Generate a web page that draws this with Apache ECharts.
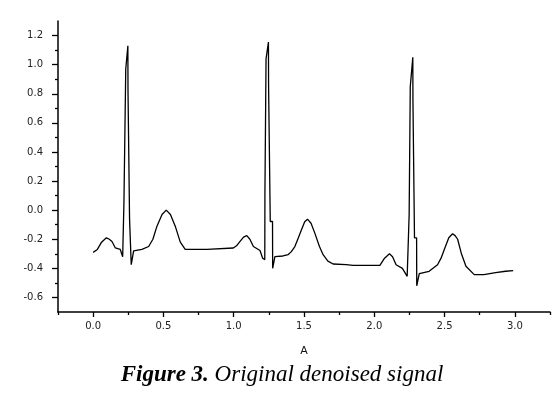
<!DOCTYPE html>
<html>
<head>
<meta charset="utf-8">
<script src="https://cdn.jsdelivr.net/npm/echarts@6/dist/echarts.min.js"></script>
<style>html,body{margin:0;padding:0;background:#fff}#c{width:560px;height:396px}</style>
</head>
<body>
<div id="c"></div>
<script>
// time (x) and amplitude (y) of the denoised ECG trace
var timeValues = [
  0.000,0.030,0.060,0.094,0.115,0.134,0.158,0.193,0.210,0.218,0.219,0.231,0.232,0.247,0.248,0.258,0.259,0.270,0.271,0.280,0.288,
  0.300,0.347,0.395,0.425,0.454,0.490,0.520,0.550,0.584,0.620,0.655,0.750,0.810,0.997,1.020,1.045,1.070,1.093,1.115,1.140,1.187,
  1.206,1.221,1.222,1.229,1.230,1.247,1.248,1.259,1.260,1.276,1.277,1.285,1.293,1.350,1.388,1.410,1.435,1.460,1.482,1.505,1.525,
  1.550,1.577,1.610,1.636,1.670,1.707,1.800,1.849,2.040,2.073,2.108,2.130,2.155,2.200,2.234,2.247,2.248,2.255,2.256,2.274,2.275,
  2.285,2.286,2.301,2.302,2.310,2.320,2.390,2.450,2.475,2.498,2.530,2.557,2.575,2.593,2.620,2.652,2.711,2.780,2.863,2.934,2.988
];
var signalValues = [
  -0.29,-0.27,-0.22,-0.19,-0.20,-0.215,-0.26,-0.27,-0.32,-0.33,0.05,0.05,0.97,1.13,0.82,0.82,-0.06,-0.06,-0.375,-0.37,-0.28,
  -0.28,-0.27,-0.25,-0.20,-0.11,-0.03,0.00,-0.03,-0.11,-0.22,-0.27,-0.27,-0.27,-0.26,-0.245,-0.215,-0.185,-0.175,-0.20,-0.25,-0.277,
  -0.33,-0.34,0.12,0.12,1.04,1.155,0.86,0.86,-0.078,-0.078,-0.40,-0.40,-0.32,-0.315,-0.305,-0.285,-0.25,-0.19,-0.135,-0.08,-0.062,
  -0.09,-0.158,-0.25,-0.306,-0.35,-0.37,-0.375,-0.38,-0.38,-0.33,-0.30,-0.32,-0.375,-0.40,-0.455,-0.46,-0.03,-0.03,0.85,1.05,0.755,
  0.755,-0.19,-0.19,-0.52,-0.52,-0.436,-0.42,-0.375,-0.33,-0.27,-0.19,-0.162,-0.175,-0.20,-0.30,-0.386,-0.443,-0.443,-0.43,-0.42,-0.415
];
var xMajorTicks = [0.0,0.5,1.0,1.5,2.0,2.5,3.0];
var xMinorTicks = [-0.25,0.25,0.75,1.25,1.75,2.25,2.75,3.25];
var yMajorTicks = [-0.6,-0.4,-0.2,0.0,0.2,0.4,0.6,0.8,1.0,1.2];
var yMinorTicks = [-0.5,-0.3,-0.1,0.1,0.3,0.5,0.7,0.9,1.1];
var xAxisName = 'A';
var captionBold = 'Figure 3.';
var captionText = 'Original denoised signal';

var points = timeValues.map(function (t, i) { return [t, signalValues[i]]; });
var X_MIN = -0.25, X_MAX = 3.25, Y_MIN = -0.7, Y_MAX = 1.3;
var labelFont = {fontFamily: 'DejaVu Sans', fontSize: 10, color: '#222'};
var gridPos = {left: 58, right: 10, top: 21, bottom: 84};

var chart = echarts.init(document.getElementById('c'), null, {renderer: 'canvas'});
chart.setOption({
  animation: false,
  backgroundColor: '#fff',
  grid: [Object.assign({containLabel: false}, gridPos), Object.assign({containLabel: false}, gridPos)],
  xAxis: [{
    type: 'value', gridIndex: 0, min: X_MIN, max: X_MAX,
    axisLine: {show: true, onZero: false, lineStyle: {color: '#000', width: 1.5}},
    axisTick: {show: true, customValues: xMajorTicks, length: 5, lineStyle: {color: '#000', width: 1.3}},
    axisLabel: Object.assign({customValues: xMajorTicks, margin: 9,
      formatter: function (v) { return v.toFixed(1); }}, labelFont),
    splitLine: {show: false},
    name: xAxisName, nameLocation: 'middle', nameGap: 34,
    nameTextStyle: {fontFamily: 'DejaVu Sans', fontSize: 11, color: '#111'}
  }, {
    type: 'value', gridIndex: 1, min: X_MIN, max: X_MAX,
    axisLine: {show: false, onZero: false},
    axisTick: {show: true, customValues: xMinorTicks, length: 3, lineStyle: {color: '#000', width: 1.3}},
    axisLabel: {show: false}, splitLine: {show: false}
  }],
  yAxis: [{
    type: 'value', gridIndex: 0, min: Y_MIN, max: Y_MAX,
    axisLine: {show: true, onZero: false, lineStyle: {color: '#000', width: 1.5}},
    axisTick: {show: true, customValues: yMajorTicks, length: 6, lineStyle: {color: '#000', width: 1.3}},
    axisLabel: Object.assign({customValues: yMajorTicks, margin: 15,
      formatter: function (v) { return v.toFixed(1); }}, labelFont),
    splitLine: {show: false}
  }, {
    type: 'value', gridIndex: 1, min: Y_MIN, max: Y_MAX,
    axisLine: {show: false, onZero: false},
    axisTick: {show: true, customValues: yMinorTicks, length: 3, lineStyle: {color: '#000', width: 1.3}},
    axisLabel: {show: false}, splitLine: {show: false}
  }],
  series: [{
    type: 'line', xAxisIndex: 0, yAxisIndex: 0,
    data: points, showSymbol: false, smooth: false,
    lineStyle: {color: '#000', width: 1.3}
  }],
  graphic: [{
    type: 'text', x: 282, y: 375,
    style: {
      text: '{b|' + captionBold + '} {i|' + captionText + '}',
      align: 'center', verticalAlign: 'middle',
      fontFamily: 'Liberation Serif', fontSize: 23, fontStyle: 'italic', fill: '#000',
      rich: {
        b: {fontFamily: 'Liberation Serif', fontSize: 23, fontStyle: 'italic', fontWeight: 'bold', fill: '#000'},
        i: {fontFamily: 'Liberation Serif', fontSize: 23, fontStyle: 'italic', fill: '#000'}
      }
    }
  }]
});
</script>
</body>
</html>
